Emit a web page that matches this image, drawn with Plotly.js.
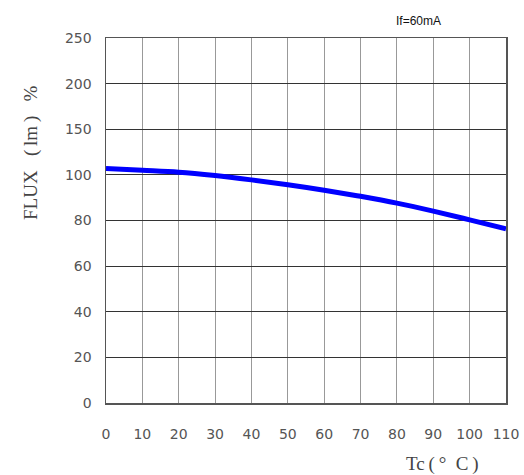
<!DOCTYPE html>
<html>
<head>
<meta charset="utf-8">
<script src="https://cdn.plot.ly/plotly-3.0.1.min.js"></script>
<style>html,body{margin:0;padding:0;background:#fff;}#chart{width:524px;height:475px;}</style>
</head>
<body>
<div id="chart"></div>
<script>
// Data
const tempC = [0, 10, 20, 30, 40, 50, 60, 70, 80, 90, 100, 110];
const fluxPct = [107.0, 105.1, 103.0, 99.7, 97.8, 95.7, 93.3, 90.6, 87.6, 84.1, 80.3, 76.4];
const yTickLabels = [0, 20, 40, 60, 80, 100, 150, 200, 250];
const xTickLabels = [0, 10, 20, 30, 40, 50, 60, 70, 80, 90, 100, 110];

// The chart's y axis is non-uniform: each gridline is one step, labelled by yTickLabels.
function toAxis(v) {
  for (let i = 0; i < yTickLabels.length - 1; i++) {
    const a = yTickLabels[i], b = yTickLabels[i + 1];
    if (v <= b) return i + (v - a) / (b - a);
  }
  return yTickLabels.length - 1;
}
const yPos = fluxPct.map(toAxis);
const yTickVals = yTickLabels.map((_, i) => i);

const tickFont = {family: 'DejaVu Sans', size: 14, color: '#555'};

const trace = {
  x: tempC, y: yPos, type: 'scatter', mode: 'lines',
  line: {color: '#0000ff', width: 5, shape: 'spline'},
  hoverinfo: 'skip'
};

const layout = {
  width: 524, height: 475,
  margin: {l: 106, r: 18, t: 38, b: 72},
  paper_bgcolor: '#fff', plot_bgcolor: '#fff',
  showlegend: false,
  xaxis: {
    range: [0, 110], tickvals: xTickLabels, ticktext: xTickLabels.map(String),
    showgrid: true, gridcolor: '#999', gridwidth: 1,
    zeroline: false, showline: true, linecolor: '#555', linewidth: 1.5, mirror: true,
    ticks: '', ticklabelstandoff: 18, tickfont: tickFont
  },
  yaxis: {
    range: [0, 8], tickvals: yTickVals, ticktext: yTickLabels.map(String),
    showgrid: true, gridcolor: '#333', gridwidth: 1,
    zeroline: false, showline: true, linecolor: '#555', linewidth: 1.5, mirror: true,
    ticks: '', ticklabelstandoff: 10, tickfont: tickFont
  },
  annotations: [
    {text: 'If=60mA', xref: 'paper', yref: 'paper', x: 0.78, y: 1, yshift: 17, xanchor: 'center', yanchor: 'middle',
     showarrow: false, font: {family: 'Liberation Sans', size: 12, color: '#111'}},
    {text: 'FLUX \u2002(\u2009lm\u2009) \u2002%', xref: 'paper', yref: 'paper', x: 0, xshift: -75, y: 0.685, xanchor: 'center', yanchor: 'middle',
     textangle: -90, showarrow: false, font: {family: 'Liberation Serif', size: 19, color: '#444'}},
    {text: 'Tc\u2009(\u2009\u00b0\u2002C\u2009)', xref: 'paper', yref: 'paper', x: 0.84, y: 0, yshift: -61, xanchor: 'center', yanchor: 'middle',
     showarrow: false, font: {family: 'Liberation Serif', size: 19, color: '#444'}}
  ]
};

Plotly.newPlot('chart', [trace], layout, {staticPlot: true, displayModeBar: false});
</script>
</body>
</html>
